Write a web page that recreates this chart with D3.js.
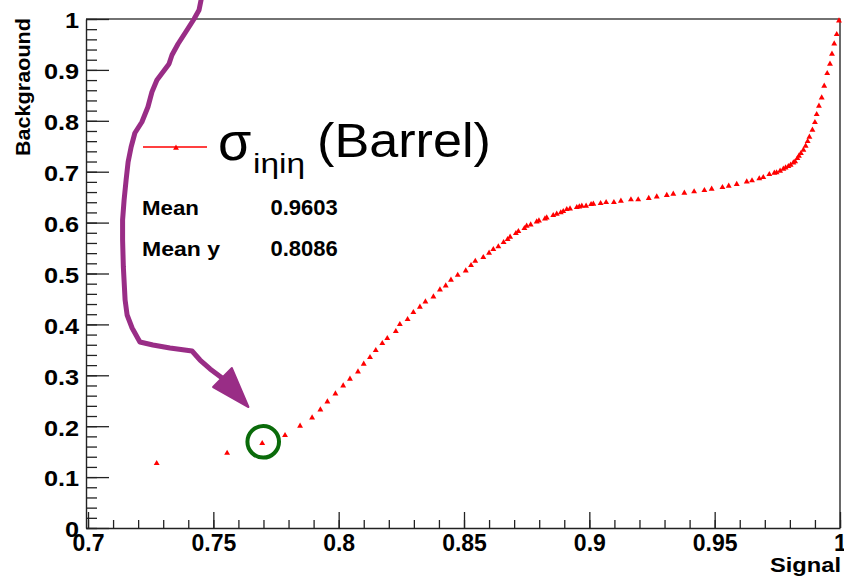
<!DOCTYPE html>
<html>
<head>
<meta charset="utf-8">
<script src="https://cdn.jsdelivr.net/npm/d3@7/dist/d3.min.js"></script>
<style>
  html, body { margin: 0; padding: 0; background: #fff; }
  svg { display: block; }
  text { font-family: "Liberation Sans", Arial, Helvetica, sans-serif; }
</style>
</head>
<body>
<script>
// ---------------- data ----------------
const signal = [0.7274,0.7555,0.7695,0.7786,0.7846,0.7894,0.7927,0.7955,0.7987,0.8018,
  0.8045,0.8077,0.8100,0.8125,0.8148,0.8174,0.8194,0.8228,0.8244,0.8275,
  0.8298,0.8324,0.8346,0.8378,0.8404,0.8427,0.8448,0.8475,0.8507,0.8528,
  0.8545,0.8577,0.8600,0.8617,0.8637,0.8658,0.8674,0.8684,0.8707,0.8717,
  0.8741,0.8750,0.8766,0.8790,0.8799,0.8823,0.8830,0.8856,0.8870,0.8886,
  0.8896,0.8910,0.8923,0.8950,0.8960,0.8970,0.8987,0.9007,0.9016,0.9045,
  0.9067,0.9098,0.9126,0.9166,0.9195,0.9237,0.9269,0.9309,0.9335,0.9379,
  0.9418,0.9459,0.9488,0.9531,0.9556,0.9588,0.9628,0.9649,0.9678,0.9694,
  0.9718,0.9738,0.9747,0.9761,0.9774,0.9783,0.9794,0.9803,0.9814,0.9821,
  0.9830,0.9836,0.9844,0.9854,0.9863,0.9871,0.9878,0.9890,0.9900,0.9907,
  0.9916,0.9927,0.9937,0.9949,0.9960,0.9968,0.9977,0.9987,0.9996];
const background = [0.1271,0.1473,0.1664,0.1821,0.2004,0.2167,0.2324,0.2481,0.2638,0.2796,
  0.2927,0.3071,0.3222,0.3353,0.3491,0.3629,0.3727,0.3864,0.4002,0.4100,
  0.4238,0.4342,0.4446,0.4544,0.4682,0.4760,0.4872,0.4970,0.5055,0.5161,
  0.5245,0.5318,0.5403,0.5475,0.5527,0.5613,0.5672,0.5717,0.5790,0.5829,
  0.5888,0.5933,0.5959,0.6018,0.6037,0.6077,0.6096,0.6143,0.6169,0.6195,
  0.6222,0.6261,0.6273,0.6300,0.6312,0.6326,0.6326,0.6359,0.6365,0.6379,
  0.6399,0.6399,0.6424,0.6451,0.6451,0.6478,0.6509,0.6537,0.6563,0.6582,
  0.6608,0.6635,0.6661,0.6694,0.6719,0.6753,0.6804,0.6824,0.6863,0.6890,
  0.6949,0.6975,0.6981,0.7014,0.7053,0.7079,0.7106,0.7132,0.7177,0.7197,
  0.7263,0.7308,0.7361,0.7426,0.7505,0.7597,0.7682,0.7819,0.7970,0.8127,
  0.8291,0.8454,0.8684,0.8933,0.9116,0.9312,0.9515,0.9699,0.9967];

const xTickValues = [0.7, 0.75, 0.8, 0.85, 0.9, 0.95, 1.0];
const xTickLabels = ["0.7", "0.75", "0.8", "0.85", "0.9", "0.95", "1"];
const yTickValues = [0, 0.1, 0.2, 0.3, 0.4, 0.5, 0.6, 0.7, 0.8, 0.9, 1.0];
const yTickLabels = ["0", "0.1", "0.2", "0.3", "0.4", "0.5", "0.6", "0.7", "0.8", "0.9", "1"];

const xTitle = "Signal";
const yTitle = "Backgraound";
const legendSymbol = "σ";
const legendSub = "iηiη";
const legendRest = "(Barrel)";
const statNames = ["Mean", "Mean y"];
const statValues = ["0.9603", "0.8086"];

// hand-drawn annotation arrow, in data coordinates (signal, background)
const arrowX = [0.7451,0.7443,0.7423,0.7395,0.7359,0.7335,0.7323,0.7299,0.7275,0.7255,0.7239,0.7215,0.7187,0.7172,0.7160,0.7152,0.7144,0.7138,0.7138,0.7141,0.7148,0.7156,0.7176,0.7207,0.7259,0.7327,0.7415,0.7447,0.7487,0.7535];
const arrowY = [1.0373,1.0177,1.0000,0.9784,0.9509,0.9293,0.9116,0.8959,0.8802,0.8566,0.8271,0.7976,0.7760,0.7485,0.7191,0.6837,0.6444,0.6051,0.5658,0.5128,0.4479,0.4185,0.3929,0.3654,0.3595,0.3536,0.3477,0.3300,0.3124,0.2947];
const headX = [0.7499, 0.7574, 0.7640];
const headY = [0.2770, 0.3143, 0.2377];
const circledIndex = 2;

// ---------------- chart ----------------
const W = 844, H = 582;
const svg = d3.select("body").append("svg").attr("width", W).attr("height", H);

const x = d3.scaleLinear().domain([0.6992, 1.0]).range([86, 840]);
const y = d3.scaleLinear().domain([0, 1]).range([528, 19]);

// frame (top & right)
svg.append("path")
  .attr("d", d3.line()([[x(0.6992), y(1)], [x(1), y(1)], [x(1), y(0)]]))
  .attr("fill", "none").attr("stroke", "#444").attr("stroke-width", 1.6);

// X axis: minor then major
const xMinor = d3.range(70, 101).map(v => v / 100);
svg.append("g").attr("transform", `translate(0,${y(0)})`)
  .call(d3.axisBottom(x).tickValues(xMinor).tickSize(-8).tickSizeOuter(0).tickFormat(""))
  .call(g => g.select(".domain").remove())
  .call(g => g.selectAll("line").attr("stroke", "#222").attr("stroke-width", 1.3));
const gx = svg.append("g").attr("transform", `translate(0,${y(0)})`)
  .call(d3.axisBottom(x).tickValues(xTickValues).tickSize(-16).tickSizeOuter(0).tickPadding(6.5)
        .tickFormat((d, i) => xTickLabels[i]));
gx.select(".domain").attr("stroke", "#222").attr("stroke-width", 1.4);
gx.selectAll("line").attr("stroke", "#222").attr("stroke-width", 1.3);
gx.selectAll("text").attr("font-size", 23).attr("font-weight", "bold").attr("fill", "#000")
  .attr("font-family", '"Liberation Sans", Arial, sans-serif');

// Y axis: minor then major
const yMinor = d3.range(0, 51).map(v => v / 50);
svg.append("g").attr("transform", `translate(${x(0.6992)},0)`)
  .call(d3.axisLeft(y).tickValues(yMinor).tickSize(-11).tickSizeOuter(0).tickFormat(""))
  .call(g => g.select(".domain").remove())
  .call(g => g.selectAll("line").attr("stroke", "#222").attr("stroke-width", 1.3));
const gy = svg.append("g").attr("transform", `translate(${x(0.6992)},0)`)
  .call(d3.axisLeft(y).tickValues(yTickValues).tickSize(-23).tickSizeOuter(0).tickPadding(6)
        .tickFormat((d, i) => yTickLabels[i]));
gy.select(".domain").attr("stroke", "#222").attr("stroke-width", 1.4);
gy.selectAll("line").attr("stroke", "#222").attr("stroke-width", 1.3);
gy.selectAll("text").attr("font-size", 22).attr("font-weight", "bold").attr("fill", "#000")
  .attr("dy", "0.4em").attr("transform", "scale(1.15,1)")
  .attr("font-family", '"Liberation Sans", Arial, sans-serif');

// axis titles
svg.append("text").text(xTitle)
  .attr("x", 841).attr("y", 571.5).attr("text-anchor", "end")
  .attr("font-size", 20).attr("font-weight", "bold")
  .attr("textLength", 71).attr("lengthAdjust", "spacingAndGlyphs");
svg.append("text").text(yTitle)
  .attr("transform", "translate(30,18) rotate(-90)").attr("text-anchor", "end")
  .attr("font-size", 20).attr("font-weight", "bold")
  .attr("textLength", 138).attr("lengthAdjust", "spacingAndGlyphs");

// points
const tri = d3.symbol().type(d3.symbolTriangle).size(15);
svg.append("g").selectAll("path").data(signal.map((s, i) => [s, background[i]]))
  .join("path")
  .attr("d", tri)
  .attr("transform", d => `translate(${x(d[0])},${y(d[1])})`)
  .attr("fill", "#ff0000");

// legend
svg.append("line").attr("x1", 143).attr("x2", 207).attr("y1", 147).attr("y2", 147)
  .attr("stroke", "#ff0000").attr("stroke-width", 1.5);
svg.append("path").attr("d", tri).attr("transform", "translate(176,148)").attr("fill", "#ff0000");
svg.append("text").text(legendSymbol).attr("x", 218).attr("y", 160)
  .attr("font-size", 54).attr("fill", "#000");
svg.append("text").text(legendSub).attr("x", 253).attr("y", 173)
  .attr("font-size", 27).attr("fill", "#000")
  .attr("textLength", 52).attr("lengthAdjust", "spacingAndGlyphs");
svg.append("text").text(legendRest).attr("x", 317).attr("y", 157)
  .attr("font-size", 48).attr("fill", "#000")
  .attr("textLength", 174).attr("lengthAdjust", "spacingAndGlyphs");

// stats
const statY = [215, 256];
statNames.forEach((n, i) => {
  svg.append("text").text(n).attr("x", 142).attr("y", statY[i])
    .attr("font-size", 21).attr("font-weight", "bold").attr("textLength", n.length === 4 ? 57 : 78)
    .attr("lengthAdjust", "spacingAndGlyphs");
  svg.append("text").text(statValues[i]).attr("x", 270.5).attr("y", statY[i])
    .attr("font-size", 22).attr("font-weight", "bold");
});

// annotations: arrow and circle
const arrowColor = "#992d86";
svg.append("path")
  .attr("d", d3.line()(arrowX.map((v, i) => [x(v), y(arrowY[i])])))
  .attr("fill", "none").attr("stroke", arrowColor).attr("stroke-width", 5)
  .attr("stroke-linejoin", "round").attr("stroke-linecap", "round");
svg.append("path")
  .attr("d", d3.line()(headX.map((v, i) => [x(v), y(headY[i])])) + "Z")
  .attr("fill", arrowColor).attr("stroke", arrowColor).attr("stroke-width", 2).attr("stroke-linejoin", "round");

svg.append("circle")
  .attr("cx", x(signal[circledIndex]) + 1).attr("cy", y(background[circledIndex]) - 1.5)
  .attr("r", 15.8).attr("fill", "none").attr("stroke", "#0a6b0a").attr("stroke-width", 4);
</script>
</body>
</html>
